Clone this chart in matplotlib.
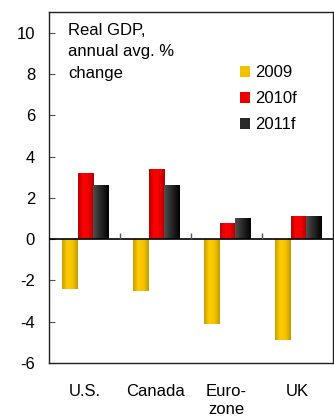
import numpy as np
import matplotlib
matplotlib.use("Agg")
import matplotlib.pyplot as plt
from matplotlib.colors import LinearSegmentedColormap
from matplotlib.patches import Patch

plt.rcParams['font.family'] = ['Liberation Sans', 'DejaVu Sans']

# Data
countries = ["U.S.", "Canada", "Euro-\nzone", "UK"]
series = ["2009", "2010f", "2011f"]
gdp_2009 = [-2.4, -2.5, -4.1, -4.9]
gdp_2010f = [3.2, 3.4, 0.8, 1.1]
gdp_2011f = [2.6, 2.6, 1.0, 1.1]
yticks = [-6, -4, -2, 0, 2, 4, 6, 8, 10]

values = [gdp_2009, gdp_2010f, gdp_2011f]
offsets = [-0.21, 0.015, 0.235]
width = 0.225
# left edge, middle, right edge shading for each series
shades = [
    ["#c9a000", "#ffcc00", "#f5c400", "#c49a00"],
    ["#b80000", "#ff0000", "#f00000", "#b00000"],
    ["#505050", "#333333", "#1a1a1a", "#000000"],
]
flat = ["#f2c200", "#ee0000", "#2a2a2a"]

fig = plt.figure(figsize=(3.34, 4.17), dpi=100)
ax = fig.add_axes([49 / 334, 54 / 417, 284 / 334, 351 / 417])

x = np.arange(len(countries))
grad = np.linspace(0, 1, 64).reshape(1, -1)
for vals, off, sh in zip(values, offsets, shades):
    cmap = LinearSegmentedColormap.from_list("g", sh)
    bars = ax.bar(x + off, vals, width=width, color="none", linewidth=0)
    for b in bars:
        x0, y0 = b.get_x(), b.get_y()
        w, h = b.get_width(), b.get_height()
        im = ax.imshow(grad, cmap=cmap, aspect="auto",
                       extent=[x0, x0 + w, y0, y0 + h], zorder=2)
        im.set_clip_path(b)

ax.set_xlim(-0.5, len(countries) - 0.5)
ax.set_ylim(-6, 11)
ax.axhline(0, color="black", linewidth=1.2, zorder=3)

# small separator ticks on the zero line
sep = x[:-1] + 0.5
ax.plot(sep, np.zeros_like(sep), linestyle="none", marker=2,
        markersize=4, color="#555555", zorder=4)

ax.set_yticks(yticks)
ax.set_yticklabels([str(t) for t in yticks], fontsize=12)
ax.tick_params(axis="y", direction="in", length=4, color="#555555", pad=10)
ax.set_xticks(x)
ax.set_xticklabels(countries, fontsize=12, linespacing=1.3, va="top")
ax.tick_params(axis="x", length=0, pad=15)

for s in ax.spines.values():
    s.set_linewidth(1.0)
    s.set_color("#222222")

ax.text(0.067, 0.97, "Real GDP,\nannual avg. %\nchange", transform=ax.transAxes,
        fontsize=12, va="top", ha="left", linespacing=1.55)

handles = [Patch(facecolor=c, edgecolor="none") for c in flat]
ax.legend(handles, series, loc="upper left", bbox_to_anchor=(0.6725, 0.849),
          frameon=False, fontsize=12, handlelength=0.6, handleheight=0.65,
          handletextpad=0.3, labelspacing=0.66, borderpad=0, borderaxespad=0)

fig.savefig("out.png", dpi=100)
